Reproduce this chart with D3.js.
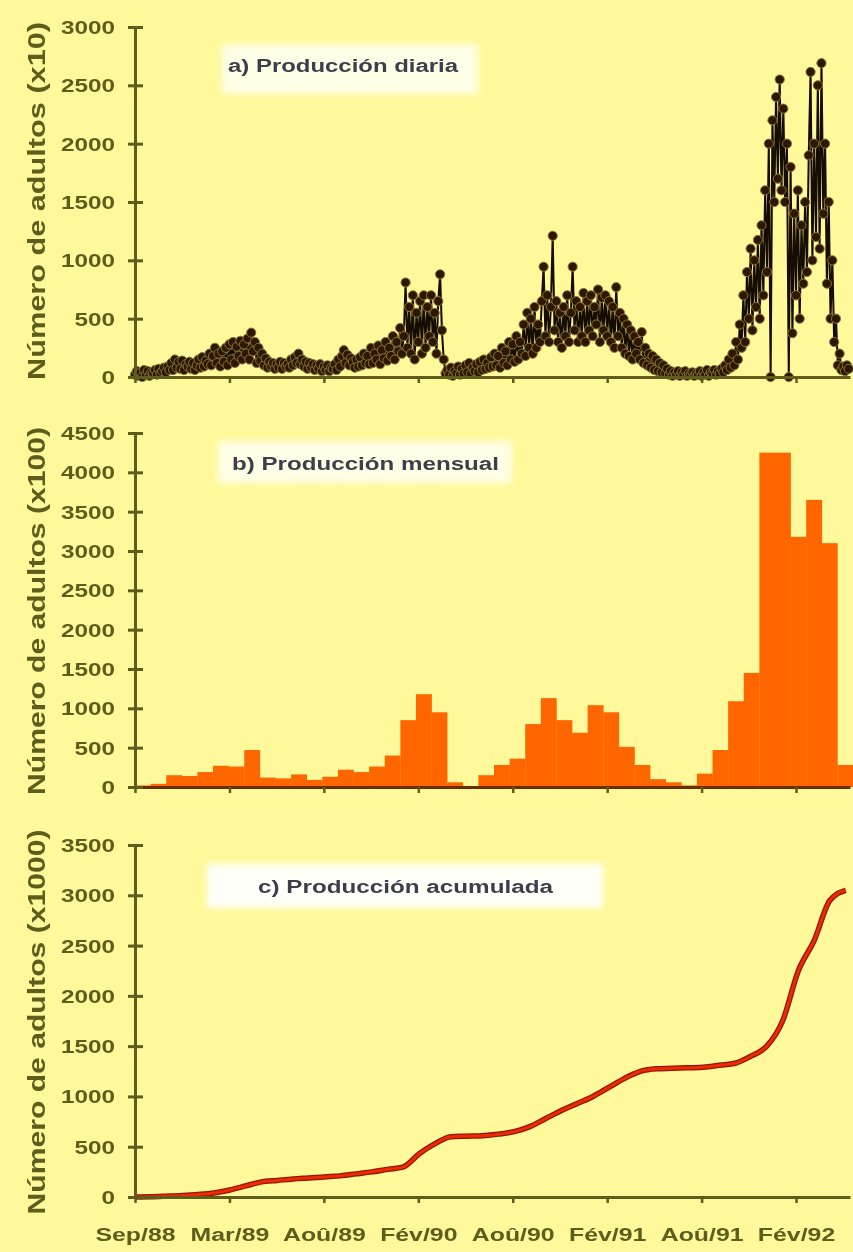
<!DOCTYPE html>
<html>
<head>
<meta charset="utf-8">
<script src="https://cdn.jsdelivr.net/npm/d3@7"></script>
<style>
body { margin: 0; background: #fff99b; }
svg { display: block; }
text { font-family: "Liberation Sans", Arial, sans-serif; }
</style>
</head>
<body>
<div id="viz"></div>
<script>
// x axis: ticks every 182 days from Sep/88
var tickDays = [0, 182, 364, 546, 728, 910, 1092, 1274];
var tickLabels = ['Sep/88', 'Mar/89', 'Aoû/89', 'Fév/90', 'Aoû/90', 'Fév/91', 'Aoû/91', 'Fév/92'];

// a) daily production (x10), one value every 3.5 days
var dailyStep = 3.5;
var dailyValues = [
  20, 50, 10, 40, 0, 60, 20, 50, 10, 40,
  30, 60, 20, 70, 30, 50, 80, 40, 90, 60,
  120, 60, 150, 80, 130, 70, 140, 60, 110, 90,
  130, 70, 120, 60, 100, 150, 80, 170, 90, 140,
  110, 200, 100, 180, 250, 120, 200, 90, 220, 130,
  250, 100, 280, 150, 300, 120, 260, 180, 310, 150,
  280, 200, 330, 150, 380, 220, 300, 120, 250, 140,
  200, 100, 160, 80, 130, 90, 120, 70, 110, 80,
  130, 70, 120, 90, 110, 80, 150, 100, 170, 120,
  200, 110, 150, 90, 130, 70, 120, 80, 110, 60,
  100, 70, 110, 50, 90, 60, 100, 50, 80, 70,
  110, 60, 150, 90, 180, 230, 120, 190, 100, 160,
  130, 80, 150, 90, 170, 100, 200, 120, 180, 110,
  250, 120, 200, 150, 270, 110, 230, 160, 300, 140,
  250, 180, 350, 150, 300, 220, 420, 200, 350, 810,
  250, 600, 200, 700, 150, 550, 300, 650, 200, 700,
  250, 600, 350, 700, 300, 550, 200, 650, 880, 400,
  150, 30, 60, 20, 80, 10, 50, 30, 90, 20,
  70, 30, 100, 40, 120, 30, 80, 50, 110, 40,
  130, 60, 150, 70, 120, 80, 170, 90, 200, 100,
  180, 80, 250, 120, 220, 100, 300, 150, 280, 130,
  350, 150, 300, 200, 450, 180, 550, 250, 500, 200,
  600, 250, 450, 300, 650, 945, 350, 700, 300, 600,
  1210, 400, 650, 300, 550, 250, 600, 350, 700, 300,
  550, 945, 400, 650, 300, 600, 350, 720, 300, 650,
  400, 700, 350, 600, 450, 750, 300, 680, 400, 700,
  350, 650, 300, 600, 250, 770, 350, 550, 250, 500,
  200, 450, 180, 400, 150, 350, 200, 300, 150, 385,
  120, 250, 100, 200, 80, 180, 60, 150, 50, 120,
  40, 100, 30, 70, 20, 50, 10, 40, 20, 50,
  10, 40, 20, 50, 10, 30, 20, 40, 10, 30,
  20, 50, 10, 40, 20, 60, 10, 40, 30, 60,
  20, 50, 30, 70, 40, 100, 60, 150, 80, 200,
  100, 300, 150, 450, 250, 700, 300, 900, 500, 1100,
  400, 1000, 600, 1175, 500, 1300, 700, 1600, 900, 2000,
  0, 2200, 1500, 2400, 1700, 2550, 1600, 2300, 1500, 2000,
  0, 1800, 375, 1400, 700, 1600, 500, 1300, 800, 1500,
  900, 1900, 2615, 1000, 2000, 1200, 2500, 1100, 2690, 1400,
  2000, 800, 1500, 500, 1000, 300, 500, 100, 200, 60,
  90, 50, 100, 70
];

// b) monthly production (x100), Sep/88 onwards
var monthlyValues = [
  20, 40, 150, 140, 190, 270, 260, 470, 120, 110,
  160, 90, 130, 220, 190, 260, 400, 850, 1180, 950,
  60, 10, 150, 280, 360, 800, 1130, 850, 690, 1040,
  950, 510, 280, 100, 60, 20, 170, 470, 1090, 1450,
  4250, 4250, 3180, 3650, 3100, 280
];

// c) cumulative production (x1000), one value per month
var monthDays = 30.44;
var cumulativeValues = [
  0, 2, 8, 15, 25, 40, 70, 110, 150, 165,
  180, 190, 200, 210, 230, 250, 275, 300, 430, 530,
  600, 605, 610, 625, 650, 700, 780, 860, 930, 1000,
  1090, 1180, 1250, 1275, 1280, 1285, 1290, 1310, 1330, 1400,
  1500, 1750, 2250, 2550, 2950, 3050
];

var panelTitles = ['a) Producción diaria', 'b) Producción mensual', 'c) Producción acumulada'];
var axisTitles = ['Número de adultos (x10)', 'Número de adultos (x100)', 'Número de adultos (x1000)'];

var W = 853, H = 1252;
var axisCol = '#5e5c1c';
var labelCol = '#5f5d1d';

var svg = d3.select('#viz').append('svg')
  .attr('width', W)
  .attr('height', H);

var defs = svg.append('defs');
defs.append('filter').attr('id', 'soft')
  .append('feGaussianBlur').attr('stdDeviation', 0.6);
defs.append('filter').attr('id', 'boxblur')
  .attr('x', '-20%').attr('y', '-60%').attr('width', '140%').attr('height', '220%')
  .append('feGaussianBlur').attr('stdDeviation', 3);

svg.append('rect').attr('width', W).attr('height', H).attr('fill', '#fff99b');

var root = svg.append('g').attr('filter', 'url(#soft)');

var x = d3.scaleLinear().domain([0, 1378]).range([135, 850]);

// panel layout
var panels = [
  { top: 27, bottom: 377, max: 3000, box: [222, 44, 256, 50, 0.75], tx: 228, ty: 72, tlen: 230, ay: 201, alen: 358 },
  { top: 433, bottom: 787, max: 4500, box: [218, 441, 294, 42, 0.75], tx: 232, ty: 470, tlen: 267, ay: 611, alen: 368 },
  { top: 845, bottom: 1197, max: 3500, box: [207, 864, 396, 44, 0.95], tx: 258, ty: 893, tlen: 295, ay: 1022, alen: 385 }
];

panels.forEach(function (p, k) {
  p.y = d3.scaleLinear().domain([0, p.max]).range([p.bottom, p.top]);
  var g = root.append('g').attr('class', 'panel' + k);
  p.g = g;

  // title box
  g.append('rect')
    .attr('x', p.box[0]).attr('y', p.box[1])
    .attr('width', p.box[2]).attr('height', p.box[3])
    .attr('fill', '#ffffff').attr('opacity', p.box[4])
    .attr('filter', 'url(#boxblur)');
  g.append('text')
    .attr('x', p.tx).attr('y', p.ty)
    .attr('font-size', 18).attr('font-weight', 'bold')
    .attr('fill', '#3e3e4c')
    .attr('textLength', p.tlen).attr('lengthAdjust', 'spacingAndGlyphs')
    .text(panelTitles[k]);

  // y axis title
  g.append('text')
    .attr('transform', 'translate(45,' + p.ay + ') scale(1.3,1) rotate(-90)')
    .attr('text-anchor', 'middle')
    .attr('font-size', 19).attr('font-weight', 'bold')
    .attr('fill', labelCol)
    .attr('textLength', p.alen).attr('lengthAdjust', 'spacingAndGlyphs')
    .text(axisTitles[k]);
});

// a) daily points
var pa = panels[0];
var daily = dailyValues.map(function (v, i) { return { day: i * dailyStep, v: v }; });
var dailyLine = d3.line()
  .x(function (d) { return x(d.day); })
  .y(function (d) { return pa.y(d.v); });
pa.g.append('path')
  .datum(daily)
  .attr('d', dailyLine)
  .attr('fill', 'none')
  .attr('stroke', '#140a00')
  .attr('stroke-width', 2);
pa.g.selectAll('circle.pt')
  .data(daily).enter()
  .append('circle')
  .attr('class', 'pt')
  .attr('cx', function (d) { return x(d.day); })
  .attr('cy', function (d) { return pa.y(d.v); })
  .attr('r', 4.6)
  .attr('fill', '#2e1704')
  .attr('stroke', '#857634')
  .attr('stroke-width', 1);

// b) monthly bars
var pb = panels[1];
var band = d3.scaleBand()
  .domain(d3.range(monthlyValues.length))
  .range([135, 853])
  .padding(0);
pb.g.selectAll('rect.bar')
  .data(monthlyValues).enter()
  .append('rect')
  .attr('class', 'bar')
  .attr('x', function (d, i) { return band(i); })
  .attr('width', band.bandwidth() + 0.3)
  .attr('y', function (d) { return pb.y(d); })
  .attr('height', function (d) { return pb.bottom - pb.y(d); })
  .attr('fill', '#ff6600');

// c) cumulative line
var pc = panels[2];
var cumul = cumulativeValues.map(function (v, i) { return { day: i * monthDays, v: v }; });
var cumLine = d3.line()
  .curve(d3.curveMonotoneX)
  .x(function (d) { return x(d.day); })
  .y(function (d) { return pc.y(d.v); });
pc.g.append('path').datum(cumul).attr('d', cumLine)
  .attr('fill', 'none').attr('stroke', '#8c1800').attr('stroke-width', 5.5);
pc.g.append('path').datum(cumul).attr('d', cumLine)
  .attr('fill', 'none').attr('stroke', '#ee2a00').attr('stroke-width', 3);

// axes
panels.forEach(function (p, k) {
  var lineCol = (k === 1) ? '#6a2e00' : axisCol;

  var xAx = p.g.append('g')
    .attr('transform', 'translate(0,' + p.bottom + ')')
    .call(d3.axisBottom(x).tickValues(tickDays).tickSize(6).tickSizeOuter(0)
      .tickFormat(function (d, i) { return k === 2 ? tickLabels[i] : ''; }));
  xAx.select('.domain').attr('stroke', lineCol).attr('stroke-width', 3);
  xAx.selectAll('.tick line').attr('stroke', axisCol).attr('stroke-width', 2.5).attr('y1', 0).attr('y2', 6);
  xAx.selectAll('.tick text')
    .attr('y', 0).attr('dy', 0)
    .attr('transform', 'translate(0,44) scale(1.38,1)')
    .attr('font-size', 18).attr('font-weight', 'bold')
    .attr('font-family', '"Liberation Sans", Arial, sans-serif')
    .attr('fill', labelCol);

  var yAx = p.g.append('g')
    .attr('transform', 'translate(135,0)')
    .call(d3.axisLeft(p.y).tickValues(d3.range(0, p.max + 1, 500))
      .tickFormat(d3.format('d')).tickSize(7).tickSizeOuter(0));
  yAx.select('.domain').attr('stroke', axisCol).attr('stroke-width', 3);
  yAx.selectAll('.tick line').attr('stroke', axisCol).attr('stroke-width', 3).attr('x1', 8).attr('x2', -7);
  yAx.selectAll('.tick text')
    .attr('x', 0).attr('dy', '0.36em')
    .attr('transform', 'translate(-20,0) scale(1.35,1)')
    .attr('font-size', 18).attr('font-weight', 'bold')
    .attr('font-family', '"Liberation Sans", Arial, sans-serif')
    .attr('fill', labelCol);
});
</script>
</body>
</html>
